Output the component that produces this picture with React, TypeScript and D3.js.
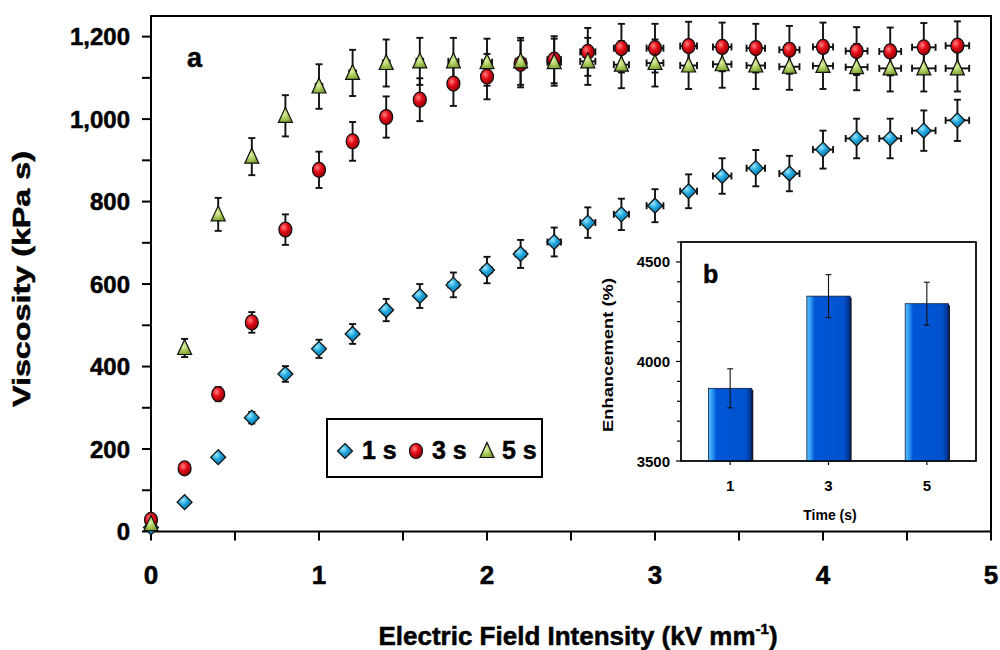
import React from 'react';
import * as d3 from 'd3';

// ---------- data ----------
const fieldKV = [0, 0.2, 0.4, 0.6, 0.8, 1.0, 1.2, 1.4, 1.6, 1.8, 2.0, 2.2, 2.4, 2.6, 2.8, 3.0, 3.2, 3.4, 3.6, 3.8, 4.0, 4.2, 4.4, 4.6, 4.8];
const fieldErr = [0, 0, 0.01, 0.01, 0.01, 0.02, 0.02, 0.02, 0.02, 0.03, 0.03, 0.03, 0.04, 0.045, 0.045, 0.05, 0.05, 0.055, 0.055, 0.06, 0.06, 0.065, 0.065, 0.07, 0.07];

const visc1s = [10, 71, 180, 276, 382, 443, 479, 537, 571, 598, 634, 673, 702, 749, 769, 790, 825, 862, 881, 868, 926, 953, 953, 972, 997];
const err1s = [1, 4, 9, 14, 19, 22, 24, 27, 29, 30, 32, 34, 35, 37, 38, 40, 41, 43, 44, 43, 46, 48, 48, 49, 50];

const visc3s = [28, 153, 333, 507, 732, 877, 946, 1005, 1047, 1086, 1103, 1134, 1144, 1163, 1172, 1172, 1177, 1175, 1172, 1168, 1175, 1165, 1164, 1174, 1178];
const err3s = [1, 8, 17, 25, 37, 44, 47, 50, 52, 54, 55, 57, 57, 58, 59, 59, 59, 59, 59, 58, 59, 58, 58, 59, 59];

const visc5s = [18, 445, 769, 909, 1008, 1079, 1112, 1136, 1140, 1140, 1138, 1140, 1138, 1140, 1132, 1136, 1130, 1133, 1130, 1127, 1129, 1126, 1123, 1123, 1123];
const err5s = [1, 22, 40, 45, 50, 54, 56, 57, 57, 57, 57, 57, 57, 57, 57, 57, 57, 57, 57, 56, 56, 56, 56, 56, 56];

const seriesNames = ['1 s', '3 s', '5 s'];

const yTicksMain = [0, 200, 400, 600, 800, 1000, 1200];
const yTickLabels = ['0', '200', '400', '600', '800', '1,000', '1,200'];
const yMinorMain = [100, 300, 500, 700, 900, 1100];
const xTicksMain = [0, 1, 2, 3, 4, 5];
const xMinorMain = [0.5, 1.5, 2.5, 3.5, 4.5];

const insetTimes = ['1', '3', '5'];
const insetEnh = [3865, 4328, 4290];
const insetErr = [98, 108, 108];
const insetYTicks = [3500, 4000, 4500];
const insetYMinor = [3600, 3700, 3800, 3900, 4100, 4200, 4300, 4400, 4600];

const FONT = "'Liberation Sans', Arial, Helvetica, sans-serif";

function diamondPath(cx: number, cy: number, r = 7.5) {
  return `M${cx},${cy - r}L${cx + r},${cy}L${cx},${cy + r}L${cx - r},${cy}Z`;
}
function trianglePath(cx: number, cy: number) {
  return `M${cx},${cy - 8.5}L${cx + 7},${cy + 6.5}L${cx - 7},${cy + 6.5}Z`;
}

function Marker({ kind, cx, cy }: { kind: number; cx: number; cy: number }) {
  if (kind === 0) return <path d={diamondPath(cx, cy)} fill="url(#gDia)" stroke="#111" strokeWidth={1.2} />;
  if (kind === 1) return <ellipse cx={cx} cy={cy} rx={6.5} ry={7.5} fill="url(#gCir)" stroke="#111" strokeWidth={1.2} />;
  return <path d={trianglePath(cx, cy)} fill="url(#gTri)" stroke="#111" strokeWidth={1.2} />;
}

export default function App() {
  const x = d3.scaleLinear().domain([0, 5]).range([151, 991]);
  const y = d3.scaleLinear().domain([0, 1250]).range([531.5, 16]);

  const ix = d3.scaleBand<string>().domain(insetTimes).range([681, 976]).paddingInner(0.56).paddingOuter(0.28);
  const iy = d3.scaleLinear().domain([3500, 4600]).range([461, 242]);

  const series = [
    { vals: visc1s, errs: err1s },
    { vals: visc3s, errs: err3s },
    { vals: visc5s, errs: err5s },
  ];

  const cap = 3.5;
  const heavy = { stroke: '#000', strokeWidth: 0.5 };

  return (
    <svg width={1000} height={650} style={{ position: 'absolute', left: 0, top: 0, background: '#fff' }} fontFamily={FONT}>
      <defs>
        <radialGradient id="gDia" cx="38%" cy="35%" r="70%">
          <stop offset="0%" stopColor="#9be8ff" />
          <stop offset="45%" stopColor="#1ea5dc" />
          <stop offset="100%" stopColor="#0a6a98" />
        </radialGradient>
        <radialGradient id="gCir" cx="38%" cy="35%" r="70%">
          <stop offset="0%" stopColor="#ff8080" />
          <stop offset="45%" stopColor="#e30b16" />
          <stop offset="100%" stopColor="#8a0008" />
        </radialGradient>
        <radialGradient id="gTri" cx="42%" cy="45%" r="70%">
          <stop offset="0%" stopColor="#dff0a8" />
          <stop offset="50%" stopColor="#a4c653" />
          <stop offset="100%" stopColor="#6b8c25" />
        </radialGradient>
        <linearGradient id="gBar" x1="0" x2="1" y1="0" y2="0">
          <stop offset="0%" stopColor="#5ac8ff" />
          <stop offset="10%" stopColor="#2a8ff0" />
          <stop offset="18%" stopColor="#0057d6" />
          <stop offset="85%" stopColor="#0052cf" />
          <stop offset="100%" stopColor="#002e88" />
        </linearGradient>
      </defs>

      {/* main frame */}
      <rect x={x(0)} y={y(1250)} width={x(5) - x(0)} height={y(0) - y(1250)} fill="none" stroke="#000" strokeWidth={2} />

      {/* y ticks */}
      {yTicksMain.map((t, i) => (
        <g key={'yt' + t}>
          <line x1={x(0) - 9} x2={x(0)} y1={y(t)} y2={y(t)} stroke="#000" strokeWidth={2} />
          <text x={130} y={y(t) + 8.5} textAnchor="end" fontSize={24} fontWeight="bold" {...heavy}>{yTickLabels[i]}</text>
        </g>
      ))}
      {yMinorMain.map(t => (
        <line key={'ym' + t} x1={x(0) - 9} x2={x(0)} y1={y(t)} y2={y(t)} stroke="#000" strokeWidth={2} />
      ))}
      {/* x ticks */}
      {xTicksMain.map(t => (
        <g key={'xt' + t}>
          <line x1={x(t)} x2={x(t)} y1={y(0)} y2={y(0) + 9} stroke="#000" strokeWidth={2} />
          <text x={x(t)} y={584} textAnchor="middle" fontSize={26} fontWeight="bold" {...heavy}>{t}</text>
        </g>
      ))}
      {xMinorMain.map(t => (
        <line key={'xm' + t} x1={x(t)} x2={x(t)} y1={y(0)} y2={y(0) + 9} stroke="#000" strokeWidth={2} />
      ))}

      {/* axis titles */}
      <text transform="translate(30,279) rotate(-90)" textAnchor="middle" fontSize={23} fontWeight="bold" textLength={256} lengthAdjust="spacingAndGlyphs" {...heavy}>Viscosity (kPa s)</text>
      <text x={578} y={645} textAnchor="middle" fontSize={26} fontWeight="bold" {...heavy}>
        Electric Field Intensity (kV mm<tspan fontSize={15} dy={-11}>-1</tspan><tspan dy={11}>)</tspan>
      </text>

      <text x={187} y={67} fontSize={27} fontWeight="bold" {...heavy}>a</text>

      {/* error bars */}
      {series.map((s, si) => (
        <g key={'eb' + si} stroke="#111" strokeWidth={1.9}>
          {s.vals.map((v, i) => {
            const cx = x(fieldKV[i]);
            const y1 = y(v + s.errs[i]);
            const y2 = y(v - s.errs[i]);
            const xl = x(fieldKV[i] - fieldErr[i]);
            const xr = x(fieldKV[i] + fieldErr[i]);
            const cy = y(v);
            return (
              <g key={i}>
                <line x1={cx} x2={cx} y1={y1} y2={y2} />
                <line x1={cx - cap} x2={cx + cap} y1={y1} y2={y1} />
                <line x1={cx - cap} x2={cx + cap} y1={y2} y2={y2} />
                {fieldErr[i] > 0 && (
                  <>
                    <line x1={xl} x2={xr} y1={cy} y2={cy} />
                    <line x1={xl} x2={xl} y1={cy - cap} y2={cy + cap} />
                    <line x1={xr} x2={xr} y1={cy - cap} y2={cy + cap} />
                  </>
                )}
              </g>
            );
          })}
        </g>
      ))}
      {/* markers */}
      {series.map((s, si) => (
        <g key={'mk' + si}>
          {s.vals.map((v, i) => (
            <Marker key={i} kind={si} cx={x(fieldKV[i])} cy={y(v)} />
          ))}
        </g>
      ))}

      {/* legend */}
      <rect x={327} y={419} width={215} height={58} fill="#fff" stroke="#000" strokeWidth={2} />
      {seriesNames.map((n, i) => (
        <g key={'lg' + n}>
          <Marker kind={i} cx={345 + i * 71} cy={451} />
          <text x={362 + i * 70} y={459} fontSize={25} fontWeight="bold" {...heavy}>{n}</text>
        </g>
      ))}

      {/* inset */}
      <rect x={681} y={242} width={295} height={219} fill="#fff" stroke="#000" strokeWidth={1.3} />
      {insetYTicks.map(t => (
        <g key={'iyt' + t}>
          <line x1={676} x2={681} y1={iy(t)} y2={iy(t)} stroke="#000" strokeWidth={1.2} />
          <text x={670} y={iy(t) + 5.5} textAnchor="end" fontSize={15} fontWeight="bold">{t}</text>
        </g>
      ))}
      {insetYMinor.map(t => (
        <line key={'iym' + t} x1={677} x2={681} y1={iy(t)} y2={iy(t)} stroke="#000" strokeWidth={1.2} />
      ))}
      {insetTimes.map((t, i) => {
        const bx = ix(t)!;
        const bw = ix.bandwidth();
        const cx = bx + bw / 2;
        return (
          <g key={'bar' + t}>
            <rect x={bx + 1.5} y={iy(insetEnh[i]) + 1.5} width={bw} height={iy(3500) - iy(insetEnh[i]) - 1.5} fill="#1a1a2a" />
            <rect x={bx} y={iy(insetEnh[i])} width={bw} height={iy(3500) - iy(insetEnh[i])} fill="url(#gBar)" stroke="#0a1a40" strokeWidth={0.8} />
            <line x1={cx} x2={cx} y1={iy(insetEnh[i] + insetErr[i])} y2={iy(insetEnh[i] - insetErr[i])} stroke="#111" strokeWidth={1.1} />
            <line x1={cx - 3} x2={cx + 3} y1={iy(insetEnh[i] + insetErr[i])} y2={iy(insetEnh[i] + insetErr[i])} stroke="#111" strokeWidth={1.1} />
            <line x1={cx - 3} x2={cx + 3} y1={iy(insetEnh[i] - insetErr[i])} y2={iy(insetEnh[i] - insetErr[i])} stroke="#111" strokeWidth={1.1} />
            <line x1={cx} x2={cx} y1={461} y2={465} stroke="#000" strokeWidth={1.2} />
            <text x={cx} y={491} textAnchor="middle" fontSize={15} fontWeight="bold">{t}</text>
          </g>
        );
      })}
      <rect x={681} y={242} width={295} height={219} fill="none" stroke="#000" strokeWidth={1.3} />
      <text transform="translate(613,355) rotate(-90)" textAnchor="middle" fontSize={14} fontWeight="bold" textLength={154} lengthAdjust="spacingAndGlyphs">Enhancement (%)</text>
      <text x={830} y={520} textAnchor="middle" fontSize={14} fontWeight="bold">Time (s)</text>
      <text x={703} y={283} fontSize={25} fontWeight="bold" {...heavy}>b</text>
    </svg>
  );
}
